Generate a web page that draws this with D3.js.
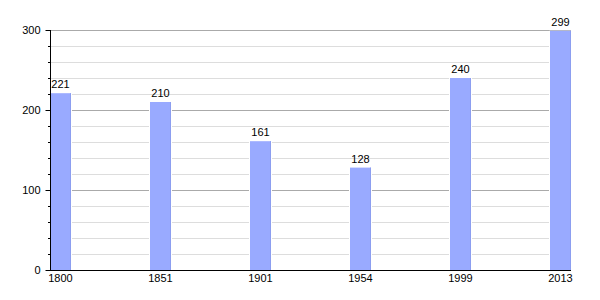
<!DOCTYPE html>
<html>
<head>
<meta charset="utf-8">
<title>Population</title>
<script src="https://d3js.org/d3.v7.min.js"></script>
<style>
  body { margin: 0; background: #fff; }
  svg { display: block; font-family: "Liberation Sans", Arial, sans-serif; }
</style>
</head>
<body>
<div id="holder"></div>
<script>
// data
const years = ["1800", "1851", "1901", "1954", "1999", "2013"];
const population = [221, 210, 161, 128, 240, 299];
const yTicks = [0, 100, 200, 300];
const yMinor = [20, 40, 60, 80, 120, 140, 160, 180, 220, 240, 260, 280];

const w = 600, h = 300;
const padLeft = 50, padRight = 571, padTop = 30, padBottom = 270;

const svg = d3.select("#holder").append("svg")
    .attr("width", w)
    .attr("height", h);

const x = d3.scaleBand()
    .domain(years)
    .range([padLeft, padRight])
    .paddingInner(0.79)
    .paddingOuter(0)
    .align(0);

const y = d3.scaleLinear()
    .domain([0, 300])
    .range([padBottom, padTop]);

// minor grid
svg.append("g").selectAll("line")
    .data(yMinor)
    .join("line")
    .attr("x1", padLeft).attr("x2", padRight)
    .attr("y1", d => Math.round(y(d)) + 0.5)
    .attr("y2", d => Math.round(y(d)) + 0.5)
    .attr("stroke", "#dddddd");

// major grid
svg.append("g").selectAll("line")
    .data(yTicks.filter(d => d > 0))
    .join("line")
    .attr("x1", padLeft).attr("x2", padRight)
    .attr("y1", d => Math.round(y(d)) + 0.5)
    .attr("y2", d => Math.round(y(d)) + 0.5)
    .attr("stroke", "#aaaaaa");

// bars
const bars = svg.append("g").selectAll("g")
    .data(years.map((yr, i) => ({ yr: yr, v: population[i] })))
    .join("g");

bars.append("rect")
    .attr("x", d => x(d.yr) - 1)
    .attr("y", d => y(d.v))
    .attr("width", x.bandwidth() + 2)
    .attr("height", d => y(0) - y(d.v))
    .attr("fill", "#ffffff");

bars.append("rect")
    .attr("x", d => x(d.yr))
    .attr("y", d => y(d.v))
    .attr("width", x.bandwidth())
    .attr("height", d => y(0) - y(d.v))
    .attr("fill", "#99aaff");

bars.append("rect")
    .attr("x", d => x(d.yr) + x.bandwidth() - 1)
    .attr("y", d => y(d.v))
    .attr("width", 1)
    .attr("height", d => y(0) - y(d.v))
    .attr("fill", "#8c9ef0");

// value labels
bars.append("text")
    .attr("x", d => x(d.yr) + x.bandwidth() / 2)
    .attr("y", d => y(d.v) - 5)
    .attr("text-anchor", "middle")
    .attr("font-size", "11px")
    .attr("fill", "#000")
    .text(d => d.v);

// y axis
const yAxis = d3.axisLeft(y).tickValues(yTicks).tickSize(5).tickPadding(5);
const gy = svg.append("g")
    .attr("transform", "translate(" + (padLeft + 0.5) + ",0)")
    .call(yAxis);
gy.select(".domain").remove();
gy.selectAll("text").attr("font-size", "11px").attr("font-family", "Liberation Sans, Arial, sans-serif");

svg.append("g").selectAll("line")
    .data(yMinor)
    .join("line")
    .attr("x1", padLeft - 2).attr("x2", padLeft)
    .attr("y1", d => Math.round(y(d)) + 0.5)
    .attr("y2", d => Math.round(y(d)) + 0.5)
    .attr("stroke", "#000");

svg.append("line")
    .attr("x1", padLeft + 0.5).attr("x2", padLeft + 0.5)
    .attr("y1", padTop).attr("y2", padBottom)
    .attr("stroke", "#000");

// x axis
svg.append("line")
    .attr("x1", padLeft).attr("x2", padRight)
    .attr("y1", padBottom + 0.5).attr("y2", padBottom + 0.5)
    .attr("stroke", "#000");

svg.append("g").selectAll("text")
    .data(years)
    .join("text")
    .attr("x", d => x(d) + x.bandwidth() / 2)
    .attr("y", padBottom + 12)
    .attr("text-anchor", "middle")
    .attr("font-size", "11px")
    .text(d => d);
</script>
</body>
</html>
